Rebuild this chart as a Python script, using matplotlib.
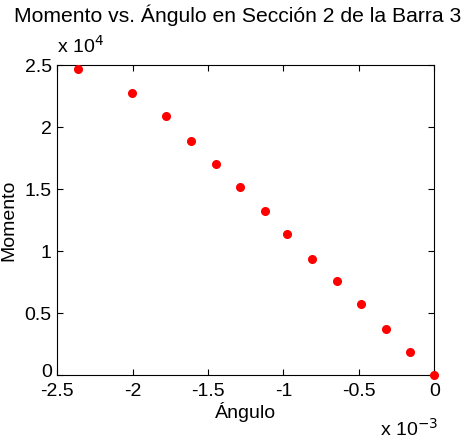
import numpy as np
import matplotlib.pyplot as plt
from matplotlib.ticker import FuncFormatter
from matplotlib.transforms import ScaledTranslation

plt.rcParams['font.family'] = ['Liberation Sans', 'DejaVu Sans']

# angle [rad], moment
angulo = np.array([-2.361, -2.003, -1.777, -1.613, -1.450, -1.288, -1.125,
                   -0.975, -0.811, -0.647, -0.486, -0.322, -0.161, 0.0]) * 1e-3
momento = np.array([2.468, 2.272, 2.086, 1.890, 1.704, 1.519, 1.323,
                    1.137, 0.938, 0.756, 0.570, 0.374, 0.188, 0.0]) * 1e4
xticks = [-2.5e-3, -2e-3, -1.5e-3, -1e-3, -0.5e-3, 0]
yticks = [0, 0.5e4, 1e4, 1.5e4, 2e4, 2.5e4]

fig = plt.figure(figsize=(4.71, 4.43), dpi=100)
ax = fig.add_axes([0.1217, 0.1535, 0.8003, 0.6995])
ax.plot(angulo, momento, 'o', color='red', markersize=5.5, clip_on=False, zorder=5)
ax.set_xlim(-2.5e-3, 0)
ax.set_ylim(0, 2.5e4)
ax.set_xticks(xticks)
ax.set_yticks(yticks)
ax.xaxis.set_major_formatter(FuncFormatter(lambda v, p: '%g' % round(v * 1e3, 3)))
ax.yaxis.set_major_formatter(FuncFormatter(lambda v, p: '%g' % round(v / 1e4, 3)))
ax.tick_params(axis='both', direction='in', top=True, right=True, length=4,
               width=0.8, labelsize=14)
ax.tick_params(axis='x', pad=6)
ax.tick_params(axis='y', pad=4)
for s in ax.spines.values():
    s.set_linewidth(0.8)
# lift the "0" on the y axis a little so it clears "-2.5"
lab0 = ax.yaxis.get_major_ticks()[0].label1
lab0.set_transform(lab0.get_transform() + ScaledTranslation(0, 3.5 / 72, fig.dpi_scale_trans))
ax.set_xlabel('Ángulo', fontsize=14, labelpad=1)
ax.set_ylabel('Momento', fontsize=14, labelpad=5)
fig.text(0.505, 0.966, 'Momento vs. Ángulo en Sección 2 de la Barra 3',
         ha='center', va='center', fontsize=15.2)
fig.text(0.12, 0.872, r'x 10$^{4}$', ha='left', va='bottom', fontsize=14)
fig.text(0.806, 0.008, r'x 10$^{-3}$', ha='left', va='bottom', fontsize=14)
plt.savefig('out.png', dpi=100)
